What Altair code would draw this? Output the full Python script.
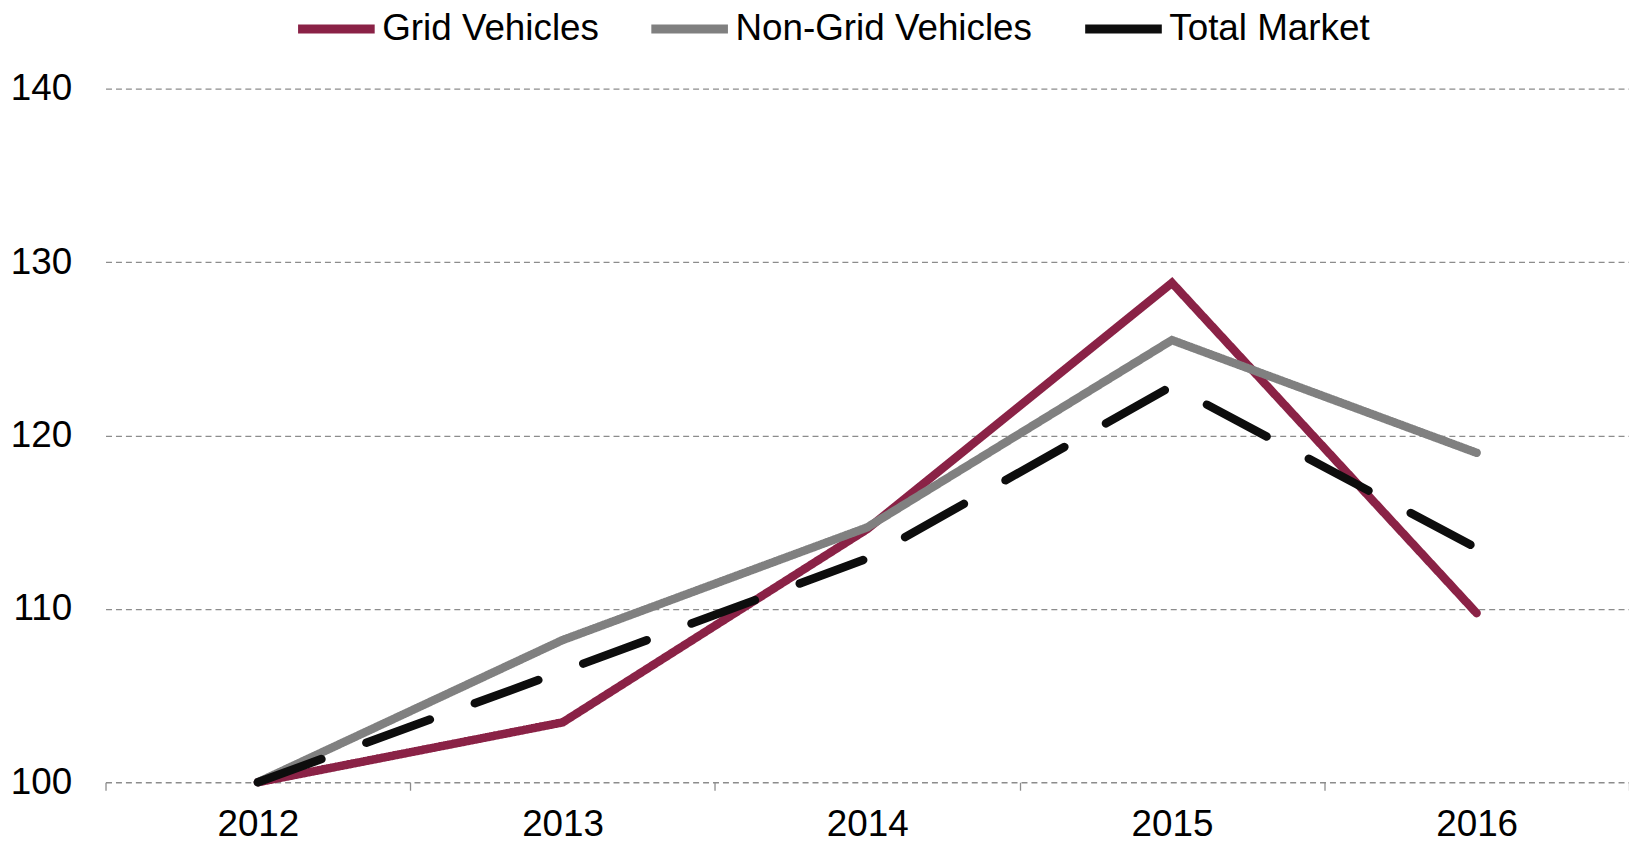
import altair as alt
import pandas as pd

years = ["2012", "2013", "2014", "2015", "2016"]
series_names = ["Grid Vehicles", "Non-Grid Vehicles", "Total Market"]
grid_vehicles = [100.0, 103.45, 114.6, 128.8, 109.75]
non_grid_vehicles = [100.0, 108.2, 114.7, 125.5, 119.0]
total_market = [100.0, 106.4, 112.9, 122.85, 113.5]
line_styles = ["solid", "solid", "dash"]
colors = ["#8A2246", "#808080", "#0D0D0D"]
y_ticks = [100, 110, 120, 130, 140]

rows = []
for name, vals, style in zip(series_names, [grid_vehicles, non_grid_vehicles, total_market], line_styles):
    for yr, v in zip(years, vals):
        rows.append({"year": yr, "series": name, "value": v, "style": style})
df = pd.DataFrame(rows)

FONT = "Liberation Sans"

chart = alt.Chart(df).mark_line(strokeWidth=8.5, strokeCap="round").encode(
    x=alt.X(
        "year:O",
        bandPosition=0.5,
        scale=alt.Scale(type="band", paddingInner=0, paddingOuter=0),
        axis=alt.Axis(
            title=None, labelAngle=0, labelFontSize=37, labelFont=FONT, labelColor="#000000",
            domain=False, ticks=True, tickBand="extent", tickColor="#8c8c8c", tickSize=8,
            tickWidth=1.3, grid=False, labelPadding=17,
        ),
    ),
    y=alt.Y(
        "value:Q",
        scale=alt.Scale(domain=[100, 140], nice=False, zero=False),
        axis=alt.Axis(
            values=y_ticks, title=None, domain=False, ticks=False, grid=True,
            gridDash=[6, 4], gridColor="#8c8c8c", gridWidth=1.3,
            labelFontSize=37, labelFont=FONT, labelColor="#000000", labelPadding=34,
        ),
    ),
    color=alt.Color(
        "series:N",
        sort=series_names,
        scale=alt.Scale(domain=series_names, range=colors),
        legend=alt.Legend(
            title=None, orient="none", direction="horizontal", legendX=189, legendY=-103,
            symbolType="stroke", symbolStrokeWidth=9, symbolSize=5929,
            labelFontSize=37, labelFont=FONT, labelColor="#000000",
            columnPadding=34, labelOffset=3, labelLimit=600,
        ),
    ),
    strokeDash=alt.StrokeDash(
        "style:N",
        scale=alt.Scale(domain=["solid", "dash"], range=[[1, 0], [68, 48]]),
        legend=None,
    ),
    order=alt.Order("year:O"),
).properties(
    width=1531,
    height=697,
    autosize=alt.AutoSizeParams(type="none"),
    padding={"left": 98, "top": 79, "right": 0, "bottom": 62},
).configure(background="white").configure_view(stroke=None)

chart.save("out.html", embed_options={"renderer": "svg", "actions": False})
